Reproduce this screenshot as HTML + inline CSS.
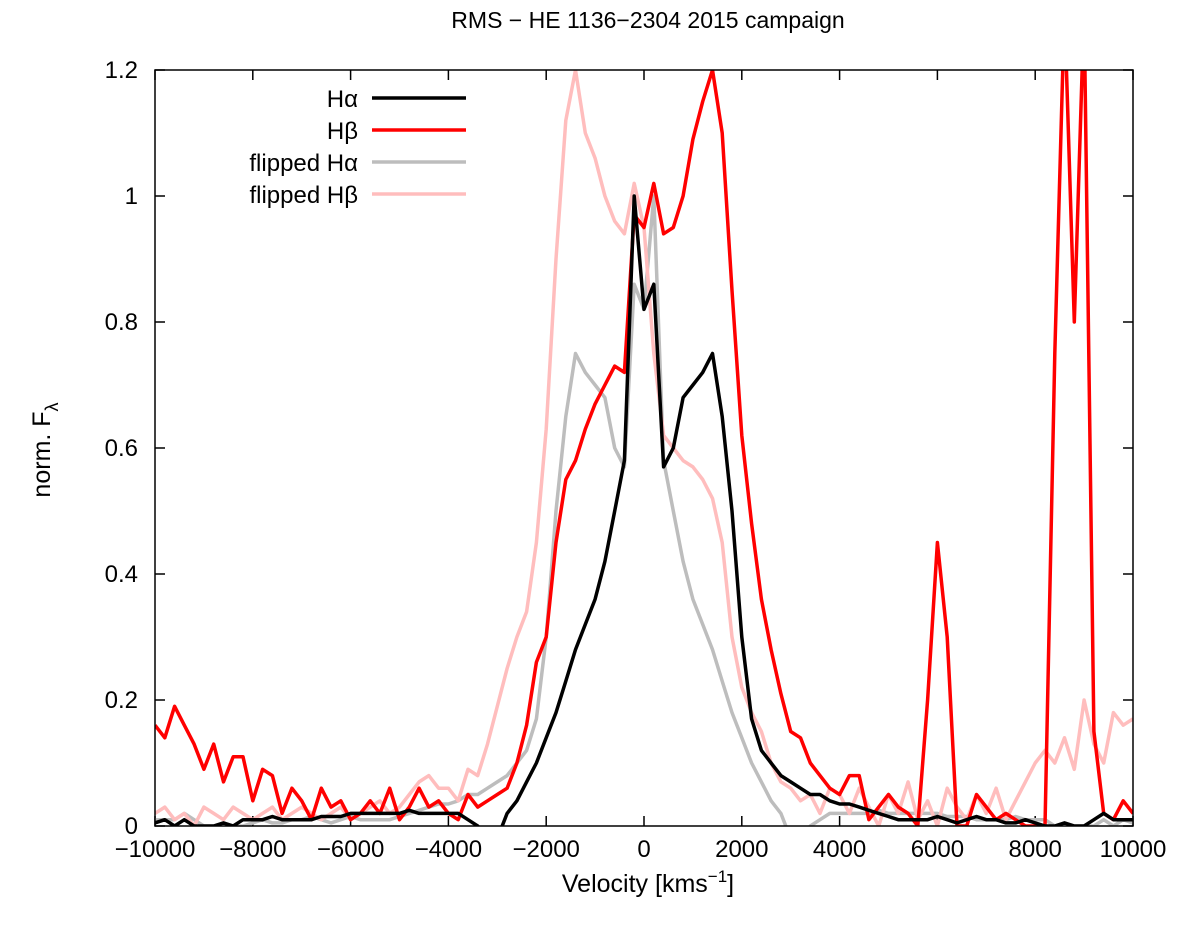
<!DOCTYPE html>
<html><head><meta charset="utf-8"><style>
body{margin:0;background:#fff}
svg{display:block;font-family:"Liberation Sans",sans-serif}
</style></head><body>
<svg id="chart" width="1200" height="931">
<defs><clipPath id="clip"><rect x="155" y="70" width="978" height="756"/></clipPath></defs>
<text x="648" y="28" text-anchor="middle" font-size="23">RMS − HE 1136−2304 2015 campaign</text>
<g id="axes"></g>
<g id="series" clip-path="url(#clip)"></g>
<rect x="155" y="70" width="978" height="756" fill="none" stroke="#000" stroke-width="1.5"/>
<text x="648" y="892" text-anchor="middle" font-size="25">Velocity [kms<tspan dy="-10" font-size="17">−1</tspan><tspan dy="10">]</tspan></text>
<text transform="translate(50,450) rotate(-90)" text-anchor="middle" font-size="25">norm. F<tspan dy="8" font-size="18">λ</tspan></text>
<g id="legend"></g>
</svg>
<script>
const xTicks=[-10000,-8000,-6000,-4000,-2000,0,2000,4000,6000,8000,10000];
const yTicks=[0,0.2,0.4,0.6,0.8,1,1.2];
const yTickLabels=["0","0.2","0.4","0.6","0.8","1","1.2"];
const velocity=[];for(let v=-10000;v<=10000;v+=200)velocity.push(v);
const halpha=[
0.005,0.01,0.0,0.01,0.0,0.0,0.0,0.005,0.0,0.01,
0.01,0.01,0.015,0.01,0.01,0.01,0.01,0.015,0.015,0.015,
0.02,0.02,0.02,0.02,0.02,0.02,0.025,0.02,0.02,0.02,
0.02,0.02,0.01,0.0,-0.02,-0.02,0.02,0.04,0.07,0.1,
0.14,0.18,0.23,0.28,0.32,0.36,0.42,0.5,0.58,1.0,
0.82,0.86,0.57,0.6,0.68,0.7,0.72,0.75,0.65,0.5,
0.3,0.17,0.12,0.1,0.08,0.07,0.06,0.05,0.05,0.04,
0.035,0.035,0.03,0.025,0.02,0.015,0.01,0.01,0.01,0.01,
0.015,0.01,0.005,0.01,0.015,0.01,0.01,0.005,0.005,0.01,
0.005,0.0,0.0,0.005,0.0,0.0,0.01,0.02,0.01,0.01,
0.01];
const hbeta=[
0.16,0.14,0.19,0.16,0.13,0.09,0.13,0.07,0.11,0.11,
0.04,0.09,0.08,0.02,0.06,0.04,0.01,0.06,0.03,0.04,
0.01,0.02,0.04,0.02,0.06,0.01,0.03,0.06,0.03,0.04,
0.02,0.01,0.05,0.03,0.04,0.05,0.06,0.10,0.16,0.26,
0.30,0.45,0.55,0.58,0.63,0.67,0.70,0.73,0.72,0.97,
0.95,1.02,0.94,0.95,1.0,1.09,1.15,1.2,1.1,0.85,
0.62,0.48,0.36,0.28,0.21,0.15,0.14,0.10,0.08,0.06,
0.05,0.08,0.08,0.01,0.03,0.05,0.03,0.02,0.0,0.2,
0.45,0.3,0.0,0.0,0.05,0.03,0.01,0.02,0.01,0.0,
0.0,0.0,0.75,1.3,0.8,1.3,0.15,0.02,0.01,0.04,
0.02];
const flippedHbeta=[
0.02,0.03,0.01,0.02,0.0,0.03,0.02,0.01,0.03,0.02,
0.01,0.02,0.03,0.01,0.02,0.03,0.02,0.01,0.02,0.03,
0.01,0.02,0.03,0.04,0.02,0.03,0.05,0.07,0.08,0.06,
0.06,0.04,0.09,0.08,0.13,0.19,0.25,0.3,0.34,0.45,
0.63,0.9,1.12,1.2,1.1,1.06,1.0,0.96,0.94,1.02,
0.95,0.75,0.62,0.6,0.58,0.57,0.55,0.52,0.45,0.3,
0.22,0.18,0.15,0.1,0.07,0.06,0.04,0.05,0.02,0.06,
0.05,0.02,0.06,0.03,0.0,0.05,0.02,0.07,0.01,0.04,
0.0,0.06,0.03,0.01,0.05,0.02,0.06,0.01,0.04,0.07,
0.1,0.12,0.1,0.14,0.09,0.2,0.13,0.1,0.18,0.16,
0.17];
const NS="http://www.w3.org/2000/svg";
const X=v=>644+v*0.0489, Y=f=>826-f*630;
const axes=document.getElementById('axes'),series=document.getElementById('series'),legend=document.getElementById('legend');
function mk(tag,parent,attrs){const e=document.createElementNS(NS,tag);for(const k in attrs)e.setAttribute(k,attrs[k]);parent.appendChild(e);return e;}
xTicks.forEach(t=>{
  const x=X(t);
  const a=mk('line',axes,{x1:x,x2:x,y1:826,y2:816,stroke:'#000','stroke-width':1.5});
  
  
  const b=mk('line',axes,{x1:x,x2:x,y1:70,y2:80,stroke:'#000','stroke-width':1.5});
  
  
  const l=mk('text',axes,{x:x,y:857,'text-anchor':'middle','font-size':24});
  l.textContent=t===0?'0':String(t).replace('-','−');
  
  
});
yTicks.forEach((t,i)=>{
  const y=Y(t);
  const a=mk('line',axes,{x1:155,x2:165,y1:y,y2:y,stroke:'#000','stroke-width':1.5});
  
  
  const b=mk('line',axes,{x1:1123,x2:1133,y1:y,y2:y,stroke:'#000','stroke-width':1.5});
  
  
  const l=mk('text',axes,{x:138,y:y+8,'text-anchor':'end','font-size':24});
  l.textContent=yTickLabels[i];
  
  
});
function draw(vals,flip,color,name){
  const pts=velocity.map((v,i)=>{const val=flip?vals[vals.length-1-i]:vals[i];return X(v).toFixed(1)+','+Y(val).toFixed(1);});
  const p=mk('polyline',series,{points:pts.join(' '),fill:'none',stroke:color,'stroke-width':3.5,'stroke-linejoin':'round'});
  
  
}
draw(halpha,true,'#bdbdbd','flipped-halpha-line');
draw(flippedHbeta,false,'#ffbdbd','flipped-hbeta-line');
draw(hbeta,false,'#ff0000','hbeta-line');
draw(halpha,false,'#000000','halpha-line');
const leg=[["H","α","#000"],["H","β","#f00"],["flipped H","α","#bdbdbd"],["flipped H","β","#ffbdbd"]];
leg.forEach((e,i)=>{
  const y=98+i*32;
  const t=mk('text',legend,{x:358,y:y+9,'text-anchor':'end','font-size':24});
  t.textContent=e[0]+e[1];
  
  
  const l=mk('line',legend,{x1:372,x2:466,y1:y,y2:y,stroke:e[2],'stroke-width':3.5});
  
  
});
</script>
</body></html>
